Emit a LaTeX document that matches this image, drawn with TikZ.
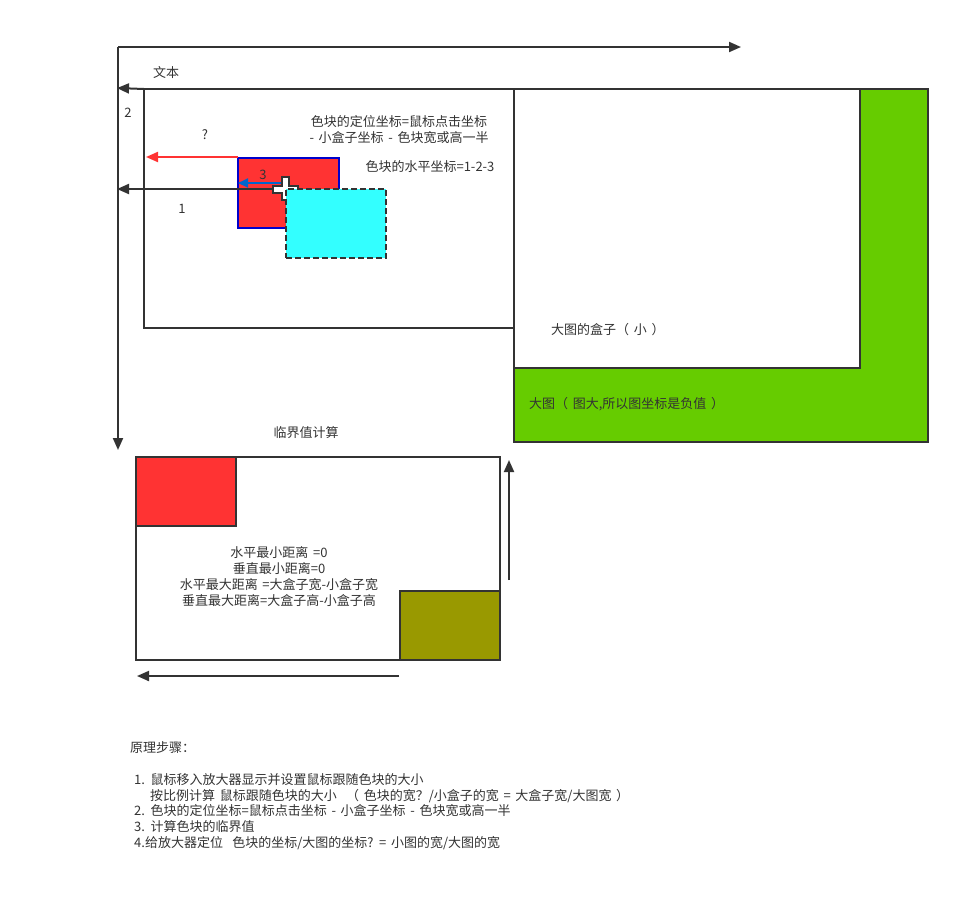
\documentclass[tikz,border=0pt]{standalone}
\usepackage{fontspec}
\setmainfont[WordSpace=1.6]{Noto Sans CJK SC}
\usetikzlibrary{arrows.meta}
\definecolor{ink}{HTML}{333333}
\definecolor{blockred}{HTML}{FF3333}
\definecolor{blockblue}{HTML}{0000CC}
\definecolor{arrowblue}{HTML}{0066CC}
\definecolor{cursorcyan}{HTML}{33FFFF}
\definecolor{imggreen}{HTML}{66CC00}
\definecolor{olive}{HTML}{999900}
\begin{document}
\begin{tikzpicture}[x=1pt,y=-1pt,
  box/.style={draw=ink,line width=2pt,inner sep=0pt,outer sep=0pt,anchor=north west},
  arr/.style={draw=ink,line width=2pt,-{Triangle[length=12pt,width=10pt]}},
  lbl/.style={text=ink,font=\fontsize{13}{16}\selectfont,inner sep=0pt},
  note/.style={lbl,anchor=west}]
\useasboundingbox[fill=white] (0,0) rectangle (960,906);

% axes of the page
\coordinate (o) at (118,47);
\coordinate (xend) at (741,47);
\coordinate (yend) at (118,450);
\draw[arr] (o) -- (xend);
\draw[arr] (o) -- (yend);

% large image, its viewport and the small box
\node[box,fill=imggreen,minimum width=414pt,minimum height=353pt] (big) at (514,89) {};
\node[box,fill=white,minimum width=346pt,minimum height=279pt] (viewport) at (514,89) {};
\node[box,fill=white,minimum width=370pt,minimum height=239pt] (small) at (144,89) {};

\node[lbl] (wenben) at (166,73) {文本};
\coordinate (d2) at (117,88);
\draw[arr] (small.north west) -- (d2);
\node[lbl] (n2) at (128,113) {2};

% coloured block following the mouse
\node[box,draw=blockblue,fill=blockred,minimum width=101pt,minimum height=70pt] (block) at (238,158) {};
\coordinate (q) at (146,157);
\draw[draw=blockred,line width=2pt,-{Triangle[length=12pt,width=10pt]}] (block.north west) ++(0,-1) -- (q);
\node[lbl] (nq) at (205,135) {?};

\coordinate (mouse) at (285,189);
\coordinate (d1) at (117,189);
\draw[arr] (mouse) -- (d1);
\node[lbl] (n1) at (182,209) {1};

\coordinate (m3) at (285,183);
\coordinate (d3) at (238,183);
\draw[draw=arrowblue,line width=2pt,-{Triangle[length=10pt,width=9pt]}] (m3) -- (d3);
\node[lbl] (n3) at (263,175) {3};

% mouse cursor
\filldraw[fill=white,draw=ink,line width=1.5pt]
  (282,177) -- (289,177) -- (289,186) -- (298,186) -- (298,193) -- (289,193)
  -- (289,200) -- (282,200) -- (282,193) -- (273,193) -- (273,186) -- (282,186) -- cycle;

\node[box,fill=cursorcyan,dashed,dash pattern=on 6pt off 3pt,minimum width=100pt,minimum height=69pt] (lens) at (286,189) {};

\node[lbl,align=center] (formula) at (399,130) {色块的定位坐标=鼠标点击坐标\\- 小盒子坐标 - 色块宽或高一半};
\node[lbl] (hcoord) at (430,167) {色块的水平坐标=1-2-3};
\node[note] (vplabel) at (551,330) {大图的盒子（ 小 ）};
\node[note] (biglabel) at (529,404) {大图（ 图大,所以图坐标是负值 ）};

% limit calculation
\node[lbl] (limtitle) at (306,433) {临界值计算};
\node[box,fill=white,minimum width=364pt,minimum height=203pt] (limbox) at (136,457) {};
\node[box,fill=blockred,minimum width=100pt,minimum height=69pt] (minpos) at (136,457) {};
\node[box,fill=olive,minimum width=100pt,minimum height=69pt] (maxpos) at (400,591) {};
\node[lbl,align=center,font=\fontsize{13}{16}\selectfont] (limtext) at (279,577)
  {水平最小距离 =0\\垂直最小距离=0\\水平最大距离 =大盒子宽-小盒子宽\\垂直最大距离=大盒子高-小盒子高};
\coordinate (upstart) at (509,580);
\coordinate (upend) at (509,460);
\draw[arr] (upstart) -- (upend);
\coordinate (lstart) at (399,676);
\coordinate (lend) at (137,676);
\draw[arr] (lstart) -- (lend);

% steps
\node[note] (s0) at (130,748) {原理步骤：};
\node[note] (s1) at (134,780) {1. 鼠标移入放大器显示并设置鼠标跟随色块的大小};
\node[note] (s1b) at (150,796) {按比例计算 鼠标跟随色块的大小 \ （ 色块的宽？/小盒子的宽 = 大盒子宽/大图宽 ）};
\node[note] (s2) at (134,811) {2. 色块的定位坐标=鼠标点击坐标 - 小盒子坐标 - 色块宽或高一半};
\node[note] (s3) at (134,827) {3. 计算色块的临界值};
\node[note] (s4) at (134,843) {4.给放大器定位 \ 色块的坐标/大图的坐标? = 小图的宽/大图的宽};
\end{tikzpicture}
\end{document}
